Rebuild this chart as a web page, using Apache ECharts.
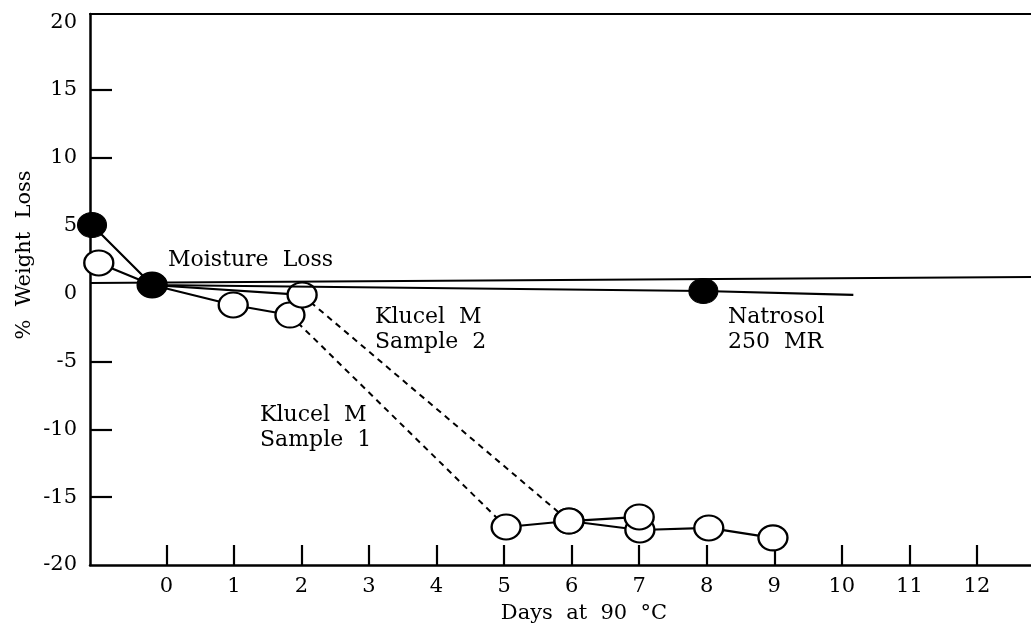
<!DOCTYPE html>
<html>
<head>
<meta charset="utf-8">
<script src="https://cdn.jsdelivr.net/npm/echarts@6/dist/echarts.min.js"></script>
<style>
  html, body { margin: 0; padding: 0; background: #fff; }
  #chart { width: 1031px; height: 628px; }
</style>
</head>
<body>
<div id="chart"></div>
<script>
// axis ticks / labels
const xTicks = [0, 1, 2, 3, 4, 5, 6, 7, 8, 9, 10, 11, 12];
const yLabels = [-20, -15, -10, -5, 0, 5, 10, 15, 20];
const yTicks = [-15, -10, -5, 10, 15];

// Natrosol 250 MR (filled)
const natrosol = [[-1.1, 5.05], [-0.21, 0.63], [7.95, 0.19], [10.17, -0.1]];
// moisture loss reference line
const moistureLine = [[-1.13, 0.78], [12.8, 1.22]];

// Klucel M sample 1 (open)
const s1Early = [[-1.0, 2.26], [-0.21, 0.63], [0.99, -0.84], [1.83, -1.58]];
const s1Gap = [[1.83, -1.58], [5.03, -17.2]];
const s1Late = [[5.03, -17.2], [5.96, -16.76], [7.01, -17.42], [8.03, -17.27], [8.98, -18.0]];

// Klucel M sample 2 (open)
const s2Early = [[-0.21, 0.63], [2.01, -0.1]];
const s2Gap = [[2.01, -0.1], [5.96, -16.76]];
const s2Late = [[5.96, -16.76], [7.0, -16.46]];

const FONT = '"DejaVu Serif", "Liberation Serif", serif';

document.addEventListener('DOMContentLoaded', () => {
  const chart = echarts.init(document.getElementById('chart'));

  const openStyle = { color: '#fff', borderColor: '#000', borderWidth: 2.2 };
  const lineSolid = { color: '#000', width: 2.2 };
  const lineDash = { color: '#000', width: 2, type: [6, 5] };

  function openSeries(data, z, skipFirst) {
    return {
      type: 'line', data: data.map((p, i) => (skipFirst && i === 0) ? { value: p, symbol: 'none' } : p),
      symbol: 'circle', symbolSize: [29, 25], showAllSymbol: true,
      itemStyle: openStyle, lineStyle: lineSolid, z: z, animation: false
    };
  }
  function dashSeries(data) {
    return {
      type: 'line', data: data, symbol: 'none', lineStyle: lineDash, z: 1, animation: false
    };
  }

  const option = {
    backgroundColor: '#fff',
    animation: false,
    grid: { left: 90, right: 0, top: 14, bottom: 63, outerBoundsMode: 'none' },
    xAxis: [
      {
        type: 'value', min: -1.13, max: 12.8,
        axisLine: { onZero: false, lineStyle: { color: '#000', width: 2.5 } },
        axisTick: { inside: true, length: 20, customValues: xTicks, lineStyle: { color: '#000', width: 2.2 } },
        axisLabel: { customValues: xTicks, color: '#000', fontSize: 21, fontFamily: FONT, margin: 11 },
        splitLine: { show: false }
      },
      {
        type: 'value', position: 'top', min: -1.13, max: 12.8,
        axisLine: { show: true, onZero: false, lineStyle: { color: '#000', width: 2.2 } },
        axisTick: { show: false }, axisLabel: { show: false }, splitLine: { show: false }
      }
    ],
    yAxis: {
      type: 'value', min: -20, max: 20.6,
      axisLine: { show: true, onZero: false, lineStyle: { color: '#000', width: 2.5 } },
      axisTick: { show: true, inside: true, length: 22, customValues: yTicks, lineStyle: { color: '#000', width: 2.2 } },
      axisLabel: { customValues: yLabels, color: '#000', fontSize: 21, fontFamily: FONT, margin: 13 },
      splitLine: { show: false }
    },
    graphic: [
      { type: 'text', x: 168, y: 260, style: { text: 'Moisture  Loss', font: '22px ' + FONT, fill: '#000', verticalAlign: 'middle' } },
      { type: 'text', x: 375, y: 330, style: { text: 'Klucel  M\nSample  2', font: '22px ' + FONT, lineHeight: 25, fill: '#000', verticalAlign: 'middle' } },
      { type: 'text', x: 260, y: 428, style: { text: 'Klucel  M\nSample  1', font: '22px ' + FONT, lineHeight: 25, fill: '#000', verticalAlign: 'middle' } },
      { type: 'text', x: 728, y: 330, style: { text: 'Natrosol\n250  MR', font: '22px ' + FONT, lineHeight: 25, fill: '#000', verticalAlign: 'middle' } },
      { type: 'text', x: 584, y: 614, style: { text: 'Days  at  90  °C', font: '21px ' + FONT, fill: '#000', align: 'center', verticalAlign: 'middle' } },
      { type: 'text', x: 25, y: 255, rotation: Math.PI / 2, style: { text: '%  Weight  Loss', font: '21px ' + FONT, fill: '#000', align: 'center', verticalAlign: 'middle' } }
    ],
    series: [
      { type: 'line', data: moistureLine, symbol: 'none', lineStyle: lineSolid, z: 1 },
      dashSeries(s1Gap),
      dashSeries(s2Gap),
      openSeries(s1Early, 2, false),
      openSeries(s2Early, 3, true),
      openSeries(s1Late, 2, false),
      openSeries(s2Late, 3, false),
      {
        type: 'line',
        data: natrosol.map((p, i) => i === natrosol.length - 1 ? { value: p, symbol: 'none' } : p),
        symbol: 'circle', symbolSize: [29, 25], showAllSymbol: true,
        itemStyle: { color: '#000', borderColor: '#000' }, lineStyle: lineSolid, z: 5
      }
    ]
  };
  chart.setOption(option);
});
</script>
</body>
</html>
